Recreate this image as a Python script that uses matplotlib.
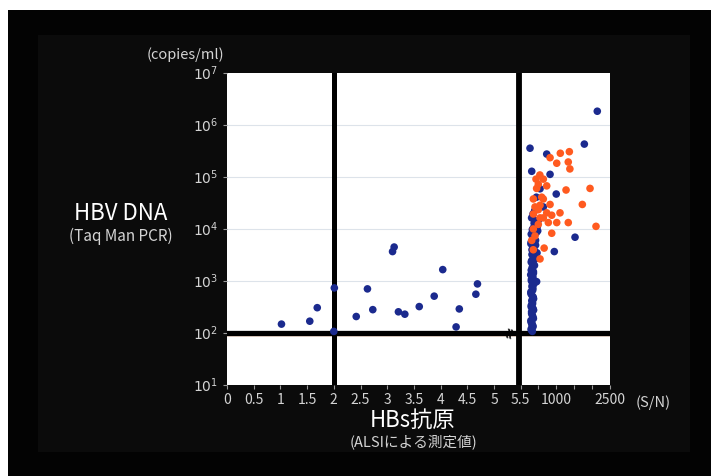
import numpy as np
import matplotlib
matplotlib.use("Agg")
import matplotlib.pyplot as plt
from matplotlib.patches import Rectangle

plt.rcParams['font.family'] = ['Noto Sans CJK JP', 'DejaVu Sans']

# HBs antigen (S/N) vs HBV DNA (copies/ml), low range (< 5.5 S/N)
low_sn = [1.02, 1.55, 1.69, 2.01, 2.0, 2.42, 2.63, 2.73, 3.13, 3.10, 3.21, 3.33,
          3.60, 3.88, 4.04, 4.29, 4.35, 4.66, 4.69]
low_dna = [145, 165, 300, 720, 105, 203, 690, 275, 4400, 3600, 250, 225,
           315, 500, 1620, 128, 284, 545, 860]

# high range, blue group
blue_sn = [2145, 1783, 265, 732, 313, 825, 998, 1523, 944, 450, 443, 637, 405, 545,
           300, 340, 320, 295, 360, 330, 310, 350, 300, 335, 365, 315, 290, 345,
           325, 370, 305, 340, 360, 300, 330, 355, 310, 380, 320, 400, 345, 420,
           300, 390, 360, 440, 330, 470, 380, 500, 350, 430,
           330, 300, 350, 320, 290, 345, 310, 365, 300, 335, 315, 355, 290, 340,
           325, 370, 305, 345, 285, 360, 330, 390, 300, 410, 350, 460, 320, 380,
           290, 420, 340, 300, 480, 360, 310, 395]
blue_dna = [1.8e6, 4.2e5, 3.5e5, 2.7e5, 1.26e5, 1.1e5, 4.6e4, 6800, 3600, 950, 4.0e4,
            2.6e4, 1.4e4, 5.8e4,
            112, 126, 141, 158, 186, 214, 251, 288, 331, 380, 447, 525, 603, 708,
            794, 912, 1050, 1200, 1380, 1580, 1820, 2090, 2400, 2750, 3160, 3630,
            4170, 4790, 5500, 6310, 7240, 8320, 9550, 11000, 12600, 14500, 19100,
            25100,
            105, 118, 133, 150, 170, 200, 232, 270, 310, 355, 410, 480, 560, 650,
            750, 850, 980, 1120, 1290, 1480, 1700, 1950, 2250, 2600, 2950, 3400,
            3900, 4500, 5100, 5900, 6800, 7800, 9000, 10300, 16000, 22000]

# high range, orange group
orange_sn = [1112, 1364, 825, 1012, 1334, 1379, 540, 450, 732, 1272, 1942, 1727, 637,
             825, 1103, 1334, 2109, 1012, 872, 660, 545, 357, 358, 497, 637, 358, 405,
             313, 545, 592, 358, 732, 872, 777, 497, 433, 637, 497, 545, 405]
orange_dna = [2.8e5, 3.0e5, 2.3e5, 1.8e5, 1.9e5, 1.4e5, 1.07e5, 5.9e4, 6.6e4, 5.5e4,
              5.9e4, 2.9e4, 3.7e4, 2.9e4, 2.0e4, 1.3e4, 1.1e4, 1.3e4, 8100, 4200,
              2600, 3900, 1.9e4, 2.3e4, 1.6e4, 9800, 7200, 5900, 2.8e4, 4.0e4, 3.7e4,
              2.0e4, 1.8e4, 1.3e4, 1.2e4, 8.9e4, 8.9e4, 7.1e4, 1.6e4, 2.6e4]

left_ticks = [0, 0.5, 1, 1.5, 2, 2.5, 3, 3.5, 4, 4.5, 5, 5.5]
left_tick_labels = ['0', '0.5', '1', '1.5', '2', '2.5', '3', '3.5', '4', '4.5', '5', '5.5']
right_ticks = [1000, 2500]
right_minor = [500, 1500, 2000]
y_ticks = [1e1, 1e2, 1e3, 1e4, 1e5, 1e6, 1e7]

BREAK = 5.5
SQUEEZE = 1 / 1492.0


def forward(x):
    x = np.asarray(x, dtype=float)
    return np.where(x <= BREAK, x, BREAK + (x - BREAK) * SQUEEZE)


def inverse(x):
    x = np.asarray(x, dtype=float)
    return np.where(x <= BREAK, x, BREAK + (x - BREAK) / SQUEEZE)


fig = plt.figure(figsize=(7.11, 4.76), dpi=100, facecolor='white')

# dark slide background
fig.patches.append(Rectangle((8 / 711, 0), 1, 466 / 476, transform=fig.transFigure,
                             facecolor='#030303', edgecolor='none', zorder=-10))
fig.patches.append(Rectangle((38 / 711, 24 / 476), 652 / 711, 417 / 476,
                             transform=fig.transFigure, facecolor='#0b0b0b',
                             edgecolor='none', zorder=-9))

ax = fig.add_axes([227 / 711, 1 - 384.5 / 476, 383 / 711, 312 / 476])
ax.set_facecolor('white')
ax.set_xscale('function', functions=(forward, inverse))
ax.set_yscale('log')
ax.set_xlim(0, 2500)
ax.set_ylim(1e1, 1e7)

for s in ax.spines.values():
    s.set_visible(False)

# faint decade gridlines
for yv in y_ticks[1:-1]:
    ax.axhline(yv, color='#dde3ea', lw=0.8, zorder=0)

# thick separators
ax.axvline(2.0, color='black', lw=3.6, zorder=3)
ax.axvline(5.46, color='black', lw=4.2, zorder=3)
ax.axhline(88, color='#d9752f', lw=1.0, zorder=2)
ax.axhline(100, color='black', lw=3.8, zorder=3)
ax.text(5.28, 100, '≈', rotation=75, fontsize=11, fontweight='bold', color='black',
        ha='center', va='center', family='DejaVu Sans', zorder=6)

ax.scatter(low_sn, low_dna, s=30, color='#1b2a8e', edgecolors='none', zorder=4)
ax.scatter(blue_sn, blue_dna, s=30, color='#1b2a8e', edgecolors='none', zorder=4)
ax.scatter(orange_sn, orange_dna, s=30, color='#ff5a1f', edgecolors='none', zorder=5)

ax.set_xticks(left_ticks + right_ticks)
ax.set_xticklabels(left_tick_labels + [str(v) for v in right_ticks])
ax.set_xticks(right_minor, minor=True)
ax.set_yticks(y_ticks)
ax.set_yticklabels([r'$10^{%d}$' % e for e in range(1, 8)])
ax.yaxis.set_minor_locator(matplotlib.ticker.NullLocator())
ax.tick_params(axis='both', which='both', colors='#9a9a9a', labelcolor='#d4d4d4',
               length=3, width=0.8, direction='out', labelsize=10)
ax.tick_params(axis='x', pad=3)

fig.text(185 / 711, 1 - 55 / 476, '(copies/ml)', color='#d4d4d4', fontsize=10.5,
         ha='center', va='center')
fig.text(121 / 711, 1 - 214 / 476, 'HBV DNA', color='white', fontsize=16,
         ha='center', va='center')
fig.text(121 / 711, 1 - 236 / 476, '(Taq Man PCR)', color='#d4d4d4', fontsize=11,
         ha='center', va='center')
fig.text(653 / 711, 1 - 403 / 476, '(S/N)', color='#d4d4d4', fontsize=10.5,
         ha='center', va='center')
fig.text(413 / 711, 1 - 420 / 476, 'HBs抗原', color='white', fontsize=16,
         ha='center', va='center')
fig.text(413 / 711, 1 - 442 / 476, '(ALSIによる測定値)', color='#d4d4d4', fontsize=10.5,
         ha='center', va='center')

fig.savefig('out.png', dpi=100, facecolor=fig.get_facecolor())
